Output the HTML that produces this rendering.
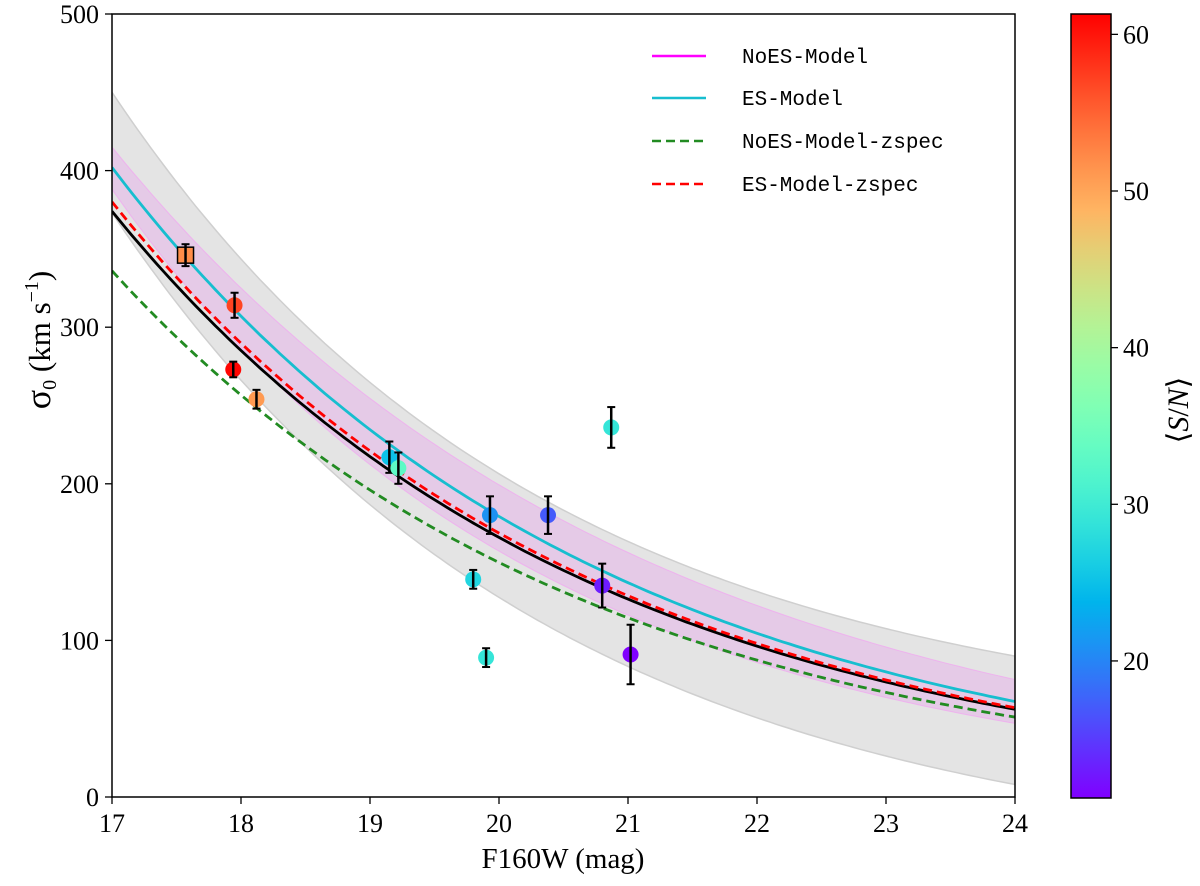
<!DOCTYPE html>
<html><head><meta charset="utf-8"><style>
body{margin:0;background:#fff;}
svg{display:block;font-family:"Liberation Serif",serif;}
.mono{font-family:"Liberation Mono",monospace;}
</style></head><body>
<svg id="chart" width="1200" height="886" viewBox="0 0 1200 886" xmlns="http://www.w3.org/2000/svg">
<defs>
<linearGradient id="cbgrad" x1="0" y1="1" x2="0" y2="0"></linearGradient>
<clipPath id="plotclip"><rect x="112" y="14" width="903" height="783"/></clipPath>
</defs>
<g id="bands" clip-path="url(#plotclip)"></g>
<g id="lines" clip-path="url(#plotclip)"></g>
<g id="points"></g>
<rect x="112" y="14" width="903" height="783" fill="none" stroke="#000" stroke-width="1.5"/>
<g id="axes"></g>
<g id="legend">
  <line x1="652" y1="56" x2="706" y2="56" stroke="#ff00ff" stroke-width="2.5"/>
  <text x="742" y="63" class="mono" font-size="21">NoES-Model</text>
  <line x1="652" y1="98" x2="706" y2="98" stroke="#17becf" stroke-width="2.5"/>
  <text x="742" y="105" class="mono" font-size="21">ES-Model</text>
  <line x1="652" y1="141" x2="706" y2="141" stroke="#228b22" stroke-width="2.5" stroke-dasharray="9,5"/>
  <text x="742" y="148" class="mono" font-size="21">NoES-Model-zspec</text>
  <line x1="652" y1="184" x2="706" y2="184" stroke="#ff0000" stroke-width="2.5" stroke-dasharray="9,5"/>
  <text x="742" y="191" class="mono" font-size="21">ES-Model-zspec</text>
</g>
<text x="563" y="868" font-size="29" text-anchor="middle">F160W (mag)</text>
<text transform="translate(50,340) rotate(-90)" font-size="31" text-anchor="middle"><tspan font-size="36">σ</tspan><tspan font-size="20" dy="6">0</tspan><tspan dy="-6"> (km s</tspan><tspan font-size="20" dy="-12">−1</tspan><tspan dy="12">)</tspan></text>
<rect x="1071" y="14" width="40" height="784" fill="url(#cbgrad)" stroke="#000" stroke-width="1.5"/>
<g id="cbaxis"></g>
<text transform="translate(1188,410) rotate(-90)" font-size="30" text-anchor="middle">⟨<tspan font-style="italic">S</tspan>/<tspan font-style="italic">N</tspan>⟩</text>
</svg>
<script>
const NS="http://www.w3.org/2000/svg";
const xTicks=[17,18,19,20,21,22,23,24];
const yTicks=[0,100,200,300,400,500];
const cbTicks=[20,30,40,50,60];
const cbMin=11.25, cbMax=61.3;
// model curves: value at mag 17 and mag 24 (exponential decline)
const blackEnds=[374,56];
const cyanEnds=[402,61];
const redEnds=[380,57];
const greenEnds=[336,51];
const pinkUpperEnds=[415,75];
const pinkLowerEnds=[388,47];
// grey band: value = amp*exp(-rate*(m-17)) + offset
const greyUpperParams=[410,0.3006,40];
const greyLowerParams=[418,0.2951,-45];
// data points
const ptMag=[17.57,17.95,17.94,18.12,19.15,19.22,19.93,20.38,20.80,21.02,20.87,19.80,19.90];
const ptSig=[346,314,273,254,217,210,180,180,135,91,236,139,89];
const ptErr=[7,8,5,6,10,10,12,12,14,19,13,6,6];
const ptSN=[52,57,61,51,25,33,21,17,13,11,29,27,29];

const X=m=>112+(m-17)*903/7;
const Y=v=>797-v*783/500;
const CB=s=>798-(s-cbMin)/(cbMax-cbMin)*784;
function el(tag,attrs,parent){const e=document.createElementNS(NS,tag);for(const k in attrs)e.setAttribute(k,attrs[k]);parent.appendChild(e);return e;}
function rainbow(x){x=Math.max(0,Math.min(1,x));const r=Math.min(1,Math.abs(2*x-0.5));const g=Math.sin(Math.PI*x);const b=Math.cos(Math.PI*x/2);return `rgb(${Math.round(r*255)},${Math.round(g*255)},${Math.round(b*255)})`;}
function expCurve(ends){const pts=[];for(let i=0;i<=140;i++){const m=17+i*7/140;const v=ends[0]*Math.pow(ends[1]/ends[0],(m-17)/7);pts.push([X(m),Y(v)]);}return pts;}
function offCurve(p){const pts=[];for(let i=0;i<=140;i++){const m=17+i*7/140;const v=p[0]*Math.exp(-p[1]*(m-17))+p[2];pts.push([X(m),Y(v)]);}return pts;}
const P=a=>a.map((p,i)=>(i?'L':'M')+p[0].toFixed(1)+','+p[1].toFixed(1)).join('');
function band(up,lo){return P(up)+lo.slice().reverse().map(p=>'L'+p[0].toFixed(1)+','+p[1].toFixed(1)).join('')+'Z';}

const bands=document.getElementById('bands');
const gb=el('path',{d:band(offCurve(greyUpperParams),offCurve(greyLowerParams)),fill:'#e4e4e4',stroke:'#cfcfcf','stroke-width':1.5},bands);


const pb=el('path',{d:band(expCurve(pinkUpperEnds),expCurve(pinkLowerEnds)),fill:'rgba(230,170,235,0.45)',stroke:'rgba(240,170,240,0.8)','stroke-width':1},bands);



const lines=document.getElementById('lines');
const defs=[[greenEnds,'#228b22','9,5','noes-zspec-line'],[blackEnds,'#000',null,'best-fit-line'],[redEnds,'#ff0000','9,5','es-zspec-line'],[cyanEnds,'#17becf',null,'es-model-line']];
for(const [e,c,d,n] of defs){const a={d:P(expCurve(e)),fill:'none',stroke:c,'stroke-width':2.8};if(d)a['stroke-dasharray']=d;const l=el('path',a,lines);

}

const pts=document.getElementById('points');
for(let i=0;i<ptMag.length;i++){const x=X(ptMag[i]),y=Y(ptSig[i]);const c=rainbow((ptSN[i]-cbMin)/(cbMax-cbMin));
 const g=el('g',{},pts);
 
 
 if(i===0){el('rect',{x:x-8,y:y-8,width:16,height:16,fill:c,stroke:'#000','stroke-width':1.5},g);}
 else el('circle',{cx:x,cy:y,r:8,fill:c},g);
 const y1=Y(ptSig[i]+ptErr[i]),y2=Y(ptSig[i]-ptErr[i]);
 el('line',{x1:x,y1:y1,x2:x,y2:y2,stroke:'#000','stroke-width':2.5},g);
 el('line',{x1:x-4,y1:y1,x2:x+4,y2:y1,stroke:'#000','stroke-width':2},g);
 el('line',{x1:x-4,y1:y2,x2:x+4,y2:y2,stroke:'#000','stroke-width':2},g);}

const ax=document.getElementById('axes');
for(const t of xTicks){const x=X(t);el('line',{x1:x,y1:797,x2:x,y2:804,stroke:'#000','stroke-width':1.3},ax);
 const tx=el('text',{x:x,y:832,'font-size':26,'text-anchor':'middle'},ax);tx.textContent=t;
 
 }
for(const t of yTicks){const y=Y(t);el('line',{x1:105,y1:y,x2:112,y2:y,stroke:'#000','stroke-width':1.3},ax);
 const tx=el('text',{x:99,y:y+9,'font-size':26,'text-anchor':'end'},ax);tx.textContent=t;
 
 }
const grad=document.getElementById('cbgrad');
for(let i=0;i<=20;i++){el('stop',{offset:(i/20),'stop-color':rainbow(i/20)},grad);}
const cba=document.getElementById('cbaxis');
for(const t of cbTicks){const y=CB(t);el('line',{x1:1111,y1:y,x2:1118,y2:y,stroke:'#000','stroke-width':1.3},cba);
 const tx=el('text',{x:1123,y:y+9,'font-size':26},cba);tx.textContent=t;
 
 }
</script>
</body></html>
